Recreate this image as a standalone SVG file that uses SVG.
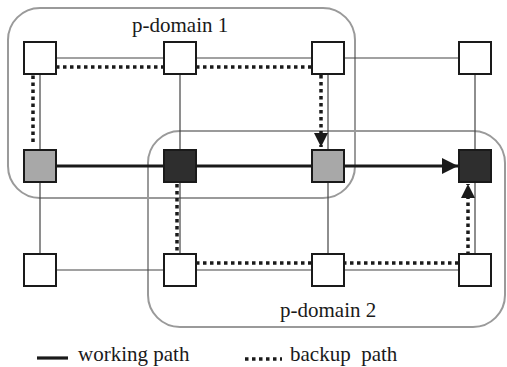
<svg xmlns="http://www.w3.org/2000/svg" width="507" height="367" viewBox="0 0 507 367">
<style>
.dom{fill:none;stroke:#9a9a9a;stroke-width:2}
.edge{stroke:#444;stroke-width:1.2;fill:none}
.work{stroke:#1a1a1a;stroke-width:3.2;fill:none}
.back{stroke:#1a1a1a;stroke-width:3.5;stroke-dasharray:3.5 3.5;fill:none}
.n{stroke:#1a1a1a;stroke-width:2}
.w{fill:#fff}.g{fill:#a8a8a8}.d{fill:#2e2e2e}
text{font-family:"Liberation Serif","Times New Roman",serif;font-size:21px;fill:#1a1a1a;white-space:pre}
</style>
<defs>
<marker id="ah" viewBox="0 0 10 10" refX="10" refY="5" markerWidth="5.5" markerHeight="5" orient="auto" markerUnits="strokeWidth">
<path d="M0,0 L10,5 L0,10 Z" fill="#1a1a1a"/>
</marker>
<marker id="ab" viewBox="0 0 10 10" refX="10" refY="5" markerWidth="4" markerHeight="4" orient="auto" markerUnits="strokeWidth">
<path d="M0,0 L10,5 L0,10 Z" fill="#1a1a1a"/>
</marker>
</defs>
<g id="domains">
<rect id="pdomain1" class="dom" x="8" y="8" width="347" height="190" rx="32"/>
<rect id="pdomain2" class="dom" x="148" y="131" width="357" height="196" rx="32"/>
<text x="132" y="32">p-domain 1</text>
<text x="280" y="317">p-domain 2</text>
</g>
<g id="connectors">
<path class="edge" d="M40,58H475M40,270H475M40,58V270M180,58V270M328,58V270M475,58V270"/>
<path class="work" d="M40,166H458" marker-end="url(#ah)"/>
<path class="back" d="M33,142V67H321V147" marker-end="url(#ab)"/>
<path class="back" d="M177,184V263H468V184" marker-end="url(#ab)"/>
</g>
<g id="nodes">
<rect id="n11" class="n w" x="24" y="42" width="32" height="32"/>
<rect id="n12" class="n w" x="164" y="42" width="32" height="32"/>
<rect id="n13" class="n w" x="312" y="42" width="32" height="32"/>
<rect id="n14" class="n w" x="459" y="42" width="32" height="32"/>
<rect id="n21" class="n g" x="24" y="150" width="32" height="32"/>
<rect id="n22" class="n d" x="164" y="150" width="32" height="32"/>
<rect id="n23" class="n g" x="312" y="150" width="32" height="32"/>
<rect id="n24" class="n d" x="459" y="150" width="32" height="32"/>
<rect id="n31" class="n w" x="24" y="254" width="32" height="32"/>
<rect id="n32" class="n w" x="164" y="254" width="32" height="32"/>
<rect id="n33" class="n w" x="312" y="254" width="32" height="32"/>
<rect id="n34" class="n w" x="459" y="254" width="32" height="32"/>
</g>
<g id="legend">
<path class="work" d="M37,358H68"/>
<text x="78" y="361">working path</text>
<path class="back" d="M245,359H282"/>
<text x="290" y="361">backup  path</text>
</g>
</svg>
